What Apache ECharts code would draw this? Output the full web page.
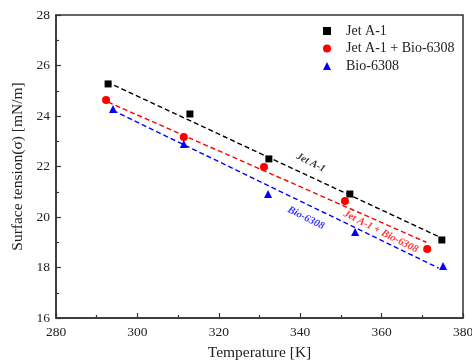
<!DOCTYPE html>
<html><head><meta charset="utf-8">
<script src="https://cdn.jsdelivr.net/npm/echarts@6/dist/echarts.min.js"></script>
<style>html,body{margin:0;padding:0;background:#fff}#c{width:472px;height:363px}</style>
</head><body><div id="c"></div>
<script>
const jetT = [292.8, 312.9, 332.3, 352.2, 374.8];
const jetS = [25.27, 24.08, 22.30, 20.91, 19.09];
const mixT = [292.3, 311.4, 331.1, 351.0, 371.2];
const mixS = [24.63, 23.17, 21.98, 20.63, 18.73];
const bioT = [294.0, 311.4, 332.1, 353.5, 375.1];
const bioS = [24.28, 22.89, 20.91, 19.41, 18.06];
// dashed fit line endpoints
const jetFit = [[292.5, 25.35], [375.0, 19.15]];
const mixFit = [[292.8, 24.55], [371.0, 19.00]];
const bioFit = [[294.0, 24.22], [374.0, 17.98]];
// annotation positions
const notes = [
  {text: 'Jet A-1', x: 342.6, y: 22.15, color: '#000000'},
  {text: 'Jet A-1 + Bio-6308', x: 359.8, y: 19.42, color: '#ff0000'},
  {text: 'Bio-6308', x: 341.4, y: 19.96, color: '#0000ff'}
];
const names = ['Jet A-1', 'Jet A-1 + Bio-6308', 'Bio-6308'];
const colors = ['#000000', '#ff0000', '#0000ff'];
const zip = (a, b) => a.map((v, i) => [v, b[i]]);
const font = '"Liberation Serif", "Times New Roman", serif';

const chart = echarts.init(document.getElementById('c'));
const axisCommon = {
  axisLine: {show: true, lineStyle: {color: '#333', width: 1.5}},
  axisTick: {show: true, inside: true, length: 5, lineStyle: {color: '#333', width: 1.2}},
  minorTick: {show: true, splitNumber: 2, length: 3, lineStyle: {color: '#333', width: 1.2}},
  splitLine: {show: false},
  axisLabel: {color: '#222', fontFamily: font, fontSize: 13.5},
  nameTextStyle: {color: '#222', fontFamily: font, fontSize: 15.5}
};
const fitSeries = [jetFit, mixFit, bioFit].map((d, i) => ({
  type: 'line', name: 'fit' + i, data: d, symbol: 'none', silent: true,
  lineStyle: {color: colors[i], width: 1.4, type: [5, 3]}, z: 1
}));
chart.setOption({
  animation: false,
  grid: {left: 56, top: 15, right: 9, bottom: 45, show: true, borderColor: '#333', borderWidth: 1.5,
    containLabel: false, outerBoundsMode: 'none'},
  legend: {
    data: [{name: names[0], icon: 'rect'}, {name: names[1], icon: 'circle'}, {name: names[2], icon: 'triangle'}],
    orient: 'vertical', left: 318, top: 19, itemWidth: 8, itemHeight: 8, itemGap: 3.5,
    textStyle: {fontFamily: font, fontSize: 14, color: '#222', padding: [0, 0, 0, 10]}
  },
  xAxis: Object.assign({}, axisCommon, {
    type: 'value', min: 280, max: 380, interval: 20, name: 'Temperature [K]',
    nameLocation: 'middle', nameGap: 27,
    axisLabel: Object.assign({}, axisCommon.axisLabel, {margin: 7})
  }),
  yAxis: Object.assign({}, axisCommon, {
    type: 'value', min: 16, max: 28, interval: 2, name: 'Surface tension(σ) [mN/m]',
    nameLocation: 'middle', nameGap: 27,
    axisLabel: Object.assign({}, axisCommon.axisLabel, {margin: 6})
  }),
  series: fitSeries.concat([
    {type: 'scatter', name: names[0], data: zip(jetT, jetS), symbol: 'rect', symbolSize: 7, itemStyle: {color: colors[0], opacity: 1}, z: 3},
    {type: 'scatter', name: names[1], data: zip(mixT, mixS), symbol: 'circle', symbolSize: 8, itemStyle: {color: colors[1], opacity: 1}, z: 3},
    {type: 'scatter', name: names[2], data: zip(bioT, bioS), symbol: 'triangle', symbolSize: 8, itemStyle: {color: colors[2], opacity: 1}, z: 3},
    {type: 'scatter', name: 'notes', symbolSize: 0, silent: true, z: 4,
      data: notes.map(n => ({value: [n.x, n.y], label: {show: true, formatter: n.text, color: n.color}})),
      label: {show: true, position: 'inside', rotate: -27, fontFamily: font, fontSize: 10.5, fontWeight: 'bold', fontStyle: 'italic'}
    }
  ])
});
</script></body></html>
